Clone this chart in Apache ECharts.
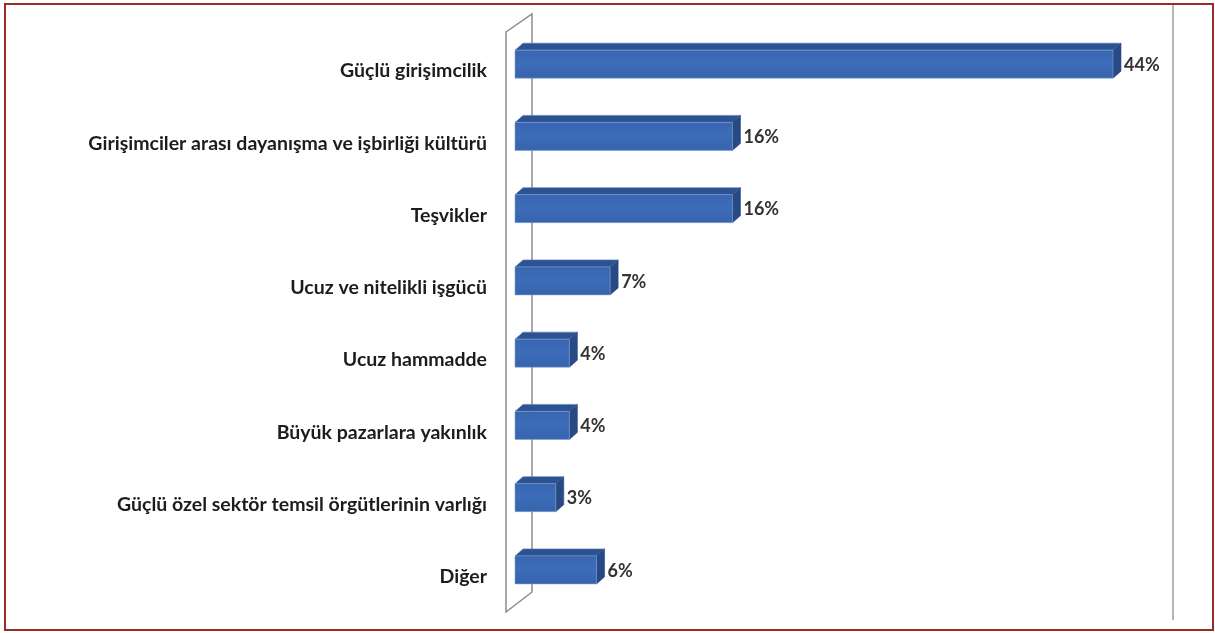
<!DOCTYPE html>
<html>
<head>
<meta charset="utf-8">
<script src="https://cdn.jsdelivr.net/npm/echarts@6/dist/echarts.min.js"></script>
<style>
  html, body { margin: 0; padding: 0; background: #fff; }
  #chart { width: 1215px; height: 633px; }
</style>
</head>
<body>
<div id="chart"></div>
<script>
// Survey answers: main strengths of the region
const categories = [
  'Güçlü girişimcilik',
  'Girişimciler arası dayanışma ve işbirliği kültürü',
  'Teşvikler',
  'Ucuz ve nitelikli işgücü',
  'Ucuz hammadde',
  'Büyük pazarlara yakınlık',
  'Güçlü özel sektör temsil örgütlerinin varlığı',
  'Diğer'
];
const shares = [44, 16, 16, 7, 4, 4, 3, 6];

const GRID = { left: 515, top: 35, width: 598, height: 578 };
const FRONT_UP = 21, FRONT_DOWN = 7;   // front face extent around the category line
const DEPTH_X = 8, DEPTH_Y = 7;        // 3D extrusion of each bar
const FONT = 'Lato, "Open Sans", sans-serif';

const chart = echarts.init(document.getElementById('chart'));

// Bars with a front face, a top face and a right side face
function renderBar(params, api) {
  const v = api.value(0);
  const c = api.value(1);
  const p0 = api.coord([0, c]);
  const p1 = api.coord([v, c]);
  const x0 = p0[0], x1 = p1[0], y = p0[1];
  const top = y - FRONT_UP, bot = y + FRONT_DOWN;
  return {
    type: 'group',
    children: [
      {
        type: 'polygon',
        shape: { points: [[x0, top], [x0 + DEPTH_X, top - DEPTH_Y], [x1 + DEPTH_X, top - DEPTH_Y], [x1, top]] },
        style: { fill: '#2d5291', stroke: '#5d80bd', lineWidth: 0.6 }
      },
      {
        type: 'polygon',
        shape: { points: [[x1, top], [x1 + DEPTH_X, top - DEPTH_Y], [x1 + DEPTH_X, bot - DEPTH_Y], [x1, bot]] },
        style: { fill: '#284a84', stroke: '#284a84', lineWidth: 0.6 }
      },
      {
        type: 'rect',
        shape: { x: x0, y: top, width: x1 - x0, height: bot - top },
        style: {
          fill: new echarts.graphic.LinearGradient(0, 0, 0, 1, [
            { offset: 0, color: '#3866b1' },
            { offset: 0.5, color: '#3d6cb8' },
            { offset: 1, color: '#3663ad' }
          ]),
          stroke: '#7f9fd0', lineWidth: 0.6
        }
      },
      {
        type: 'text',
        style: {
          x: x1 + DEPTH_X + 3,
          y: (top + bot) / 2 + 1,
          text: v + '%',
          fill: '#333333',
          font: 'bold 18px ' + FONT,
          verticalAlign: 'middle',
          align: 'left'
        }
      }
    ]
  };
}

// Side wall of the 3D plot area
const wL = 506, wR = 532;
const wall = [[wL, 32], [wR, 14], [wR, 592], [wL, 612]];

chart.setOption({
  animation: false,
  backgroundColor: '#ffffff',
  grid: GRID,
  xAxis: {
    type: 'value', min: 0, max: 44,
    show: false
  },
  yAxis: {
    type: 'category',
    data: categories,
    inverse: true,
    axisLine: { show: false },
    axisTick: { show: false },
    axisLabel: {
      margin: 28,
      color: '#1c1c1c',
      fontFamily: FONT,
      fontWeight: 'bold',
      fontSize: 19.5,
      padding: [3, 0, 0, 0]
    }
  },
  graphic: [
    {
      type: 'rect', z: 0,
      shape: { x: 5, y: 4, width: 1208, height: 626 },
      style: { fill: 'none', stroke: '#9b2b24', lineWidth: 2 }
    },
    {
      type: 'line', z: 0,
      shape: { x1: 1173, y1: 5, x2: 1173, y2: 620 },
      style: { stroke: '#b5b5b5', lineWidth: 2 }
    },
    {
      type: 'polygon', z: 0,
      shape: { points: wall },
      style: { fill: 'none', stroke: '#8c8c8c', lineWidth: 1.5 }
    }
  ],
  series: [{
    type: 'custom',
    z: 5,
    renderItem: renderBar,
    encode: { x: 0, y: 1 },
    data: shares.map((v, i) => [v, i])
  }]
});
</script>
</body>
</html>
